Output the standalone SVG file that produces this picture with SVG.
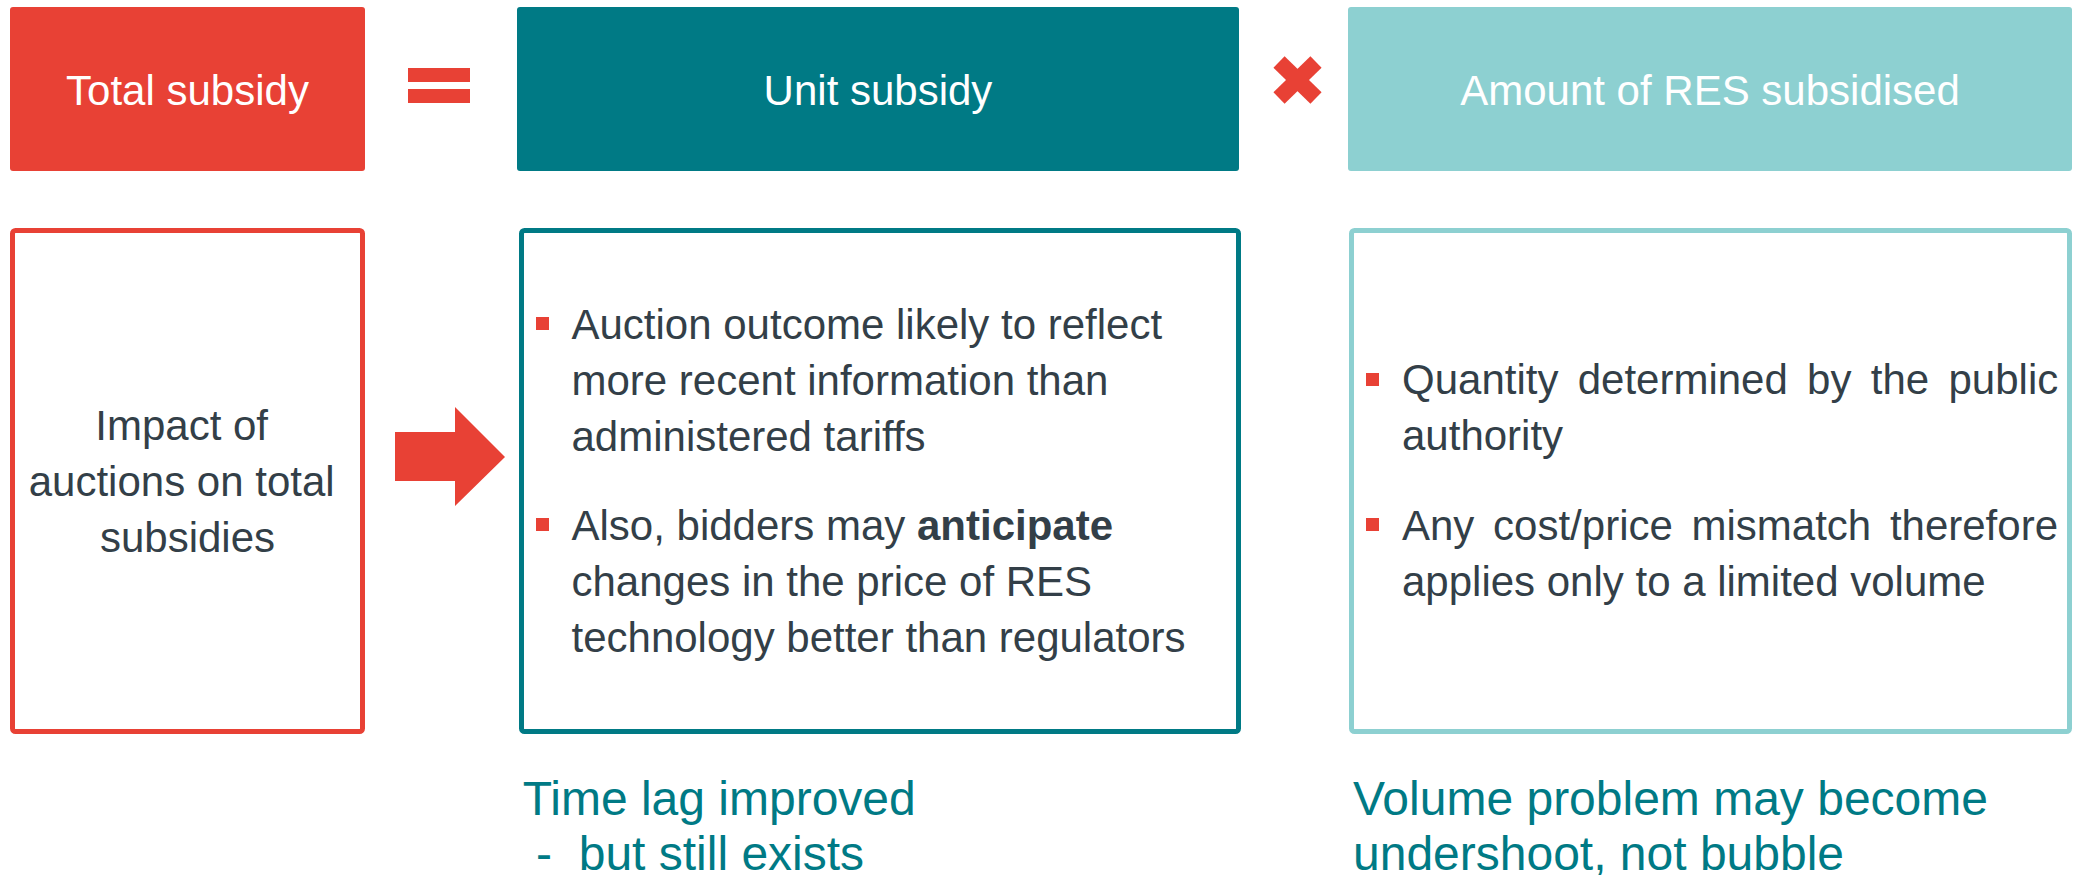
<svg xmlns="http://www.w3.org/2000/svg" width="2078" height="875" viewBox="0 0 2078 875">
  <style>
    text { font-family: "Liberation Sans", Arial, sans-serif; }
    .head { font-size: 42px; fill: #FFFFFF; text-anchor: middle; }
    .body { font-size: 42px; fill: #333F48; }
    .note { font-size: 48px; fill: #007A85; white-space: pre; }
    .red { fill: #E84135; }
    .bullet { fill: #E84135; }
    .frame { fill: #FFFFFF; stroke-width: 5; }
  </style>

  <!-- header row -->
  <g id="total-subsidy">
    <rect x="10" y="7" width="355" height="164" rx="3" class="red"/>
    <text x="187.5" y="105" class="head">Total subsidy</text>
  </g>
  <g id="equals-sign">
    <rect x="408" y="68" width="62" height="14" class="red"/>
    <rect x="408" y="89" width="62" height="14" class="red"/>
  </g>
  <g id="unit-subsidy">
    <rect x="517" y="7" width="722" height="164" rx="3" fill="#007A85"/>
    <text x="878" y="105" class="head">Unit subsidy</text>
  </g>
  <g id="times-sign">
    <line x1="1279" y1="62" x2="1316" y2="98" stroke="#E84135" stroke-width="16"/>
    <line x1="1316" y1="62" x2="1279" y2="98" stroke="#E84135" stroke-width="16"/>
  </g>
  <g id="amount-subsidised">
    <rect x="1348" y="7" width="724" height="164" rx="3" fill="#8DD0D1"/>
    <text x="1710" y="105" class="head">Amount of RES subsidised</text>
  </g>

  <!-- detail row -->
  <g id="impact">
    <rect x="12.5" y="230.5" width="350" height="501" rx="3" class="frame" stroke="#E84135"/>
    <text class="body" text-anchor="middle">
      <tspan x="187.5" y="440">Impact of</tspan>
      <tspan x="187.5" y="496">auctions on total</tspan>
      <tspan x="187.5" y="552">subsidies</tspan>
    </text>
  </g>

  <g id="connectors">
    <polygon class="red" points="395,432 455,432 455,407 505,457 455,506 455,481 395,481"/>
  </g>

  <g id="unit-detail">
    <rect x="521.5" y="230.5" width="717" height="501" rx="3" class="frame" stroke="#007A85"/>
    <rect x="536" y="317" width="13" height="13" class="bullet"/>
    <rect x="536" y="518" width="13" height="13" class="bullet"/>
    <text class="body">
      <tspan x="571.5" y="339">Auction outcome likely to reflect</tspan>
      <tspan x="571.5" y="395">more recent information than</tspan>
      <tspan x="571.5" y="451">administered tariffs</tspan>
      <tspan x="571.5" y="540">Also, bidders may <tspan font-weight="bold">anticipate</tspan></tspan>
      <tspan x="571.5" y="596">changes in the price of RES</tspan>
      <tspan x="571.5" y="652">technology better than regulators</tspan>
    </text>
  </g>

  <g id="amount-detail">
    <rect x="1351.5" y="230.5" width="718" height="501" rx="3" class="frame" stroke="#8DD0D1"/>
    <rect x="1366" y="373" width="13" height="13" class="bullet"/>
    <rect x="1366" y="518" width="13" height="13" class="bullet"/>
    <!-- justified first lines: words placed individually -->
    <text class="body" y="394">
      <tspan x="1402">Quantity</tspan>
      <tspan x="1577.7">determined</tspan>
      <tspan x="1807.1">by</tspan>
      <tspan x="1870.8">the</tspan>
      <tspan x="1948.5">public</tspan>
    </text>
    <text class="body" x="1402" y="450">authority</text>
    <text class="body" y="540">
      <tspan x="1402">Any</tspan>
      <tspan x="1493.1">cost/price</tspan>
      <tspan x="1691.5">mismatch</tspan>
      <tspan x="1889.9">therefore</tspan>
    </text>
    <text class="body" x="1402" y="596">applies only to a limited volume</text>
  </g>

  <!-- conclusions -->
  <g id="time-lag-note">
    <text class="note" x="522.7" y="815">Time lag improved</text>
    <text class="note" x="522.7" y="870"> -  but still exists</text>
  </g>
  <g id="volume-note">
    <text class="note" x="1353" y="815">Volume problem may become</text>
    <text class="note" x="1353" y="870">undershoot, not bubble</text>
  </g>
</svg>
